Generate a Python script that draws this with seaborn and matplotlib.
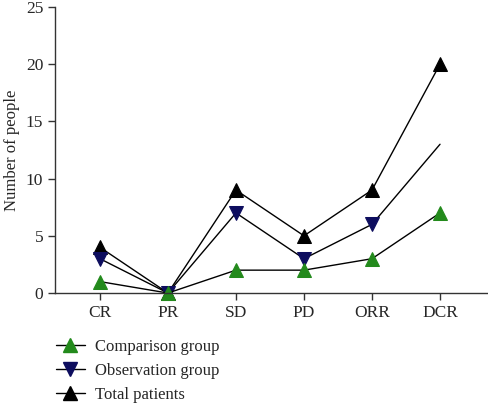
import matplotlib
matplotlib.use("Agg")
import matplotlib.pyplot as plt
import seaborn as sns
import pandas as pd
from matplotlib.lines import Line2D

categories = ["CR", "PR", "SD", "PD", "ORR", "DCR"]
comparison = [1, 0, 2, 2, 3, 7]
observation = [3, 0, 7, 3, 6, 13]
total = [4, 0, 9, 5, 9, 20]

sns.set_style("ticks")
plt.rcParams["font.family"] = ["Liberation Serif", "DejaVu Serif"]

fig = plt.figure(figsize=(4.89, 4.07), dpi=100)
ax = fig.add_axes([0.1125, 0.28, 0.8875, 0.703])

df = pd.DataFrame({"cat": categories, "comp": comparison,
                   "obs": observation, "tot": total})

# drawing order: total underneath, comparison on top
sns.lineplot(data=df, x="cat", y="tot", ax=ax, color="black", lw=1,
             marker="^", markersize=10, markerfacecolor="black",
             markeredgecolor="black", clip_on=False, sort=False)
sns.lineplot(data=df, x="cat", y="obs", ax=ax, color="black", lw=1,
             marker="v", markersize=10, markerfacecolor="#0d0d5e",
             markeredgecolor="#0d0d5e", clip_on=False, sort=False,
             markevery=[0, 1, 2, 3, 4])
sns.lineplot(data=df, x="cat", y="comp", ax=ax, color="black", lw=1,
             marker="^", markersize=10, markerfacecolor="#238a1c",
             markeredgecolor="#238a1c", clip_on=False, sort=False)

ax.set_xlim(-0.66, 5.72)
ax.set_ylim(0, 25)
ax.set_yticks([0, 5, 10, 15, 20, 25])
ax.set_xlabel("")
ax.set_ylabel("Number of people", fontsize=12)
ax.tick_params(axis="both", labelsize=12.5, length=5, width=1, color="#333333")
for s in ["top", "right"]:
    ax.spines[s].set_visible(False)
for s in ["left", "bottom"]:
    ax.spines[s].set_color("#333333")
    ax.spines[s].set_linewidth(1)

handles = [
    Line2D([], [], color="black", lw=1, marker="^", markersize=10,
           markerfacecolor="#238a1c", markeredgecolor="#238a1c"),
    Line2D([], [], color="black", lw=1, marker="v", markersize=10,
           markerfacecolor="#0d0d5e", markeredgecolor="#0d0d5e"),
    Line2D([], [], color="black", lw=1, marker="^", markersize=10,
           markerfacecolor="black", markeredgecolor="black"),
]
labels = ["Comparison group", "Observation group", "Total patients"]
fig.legend(handles, labels, loc="upper left", bbox_to_anchor=(0.115, 0.168),
           frameon=False, fontsize=12, handlelength=1.7, handletextpad=0.6,
           labelspacing=0.5, borderaxespad=0, borderpad=0)

fig.savefig("out.png", dpi=100)
